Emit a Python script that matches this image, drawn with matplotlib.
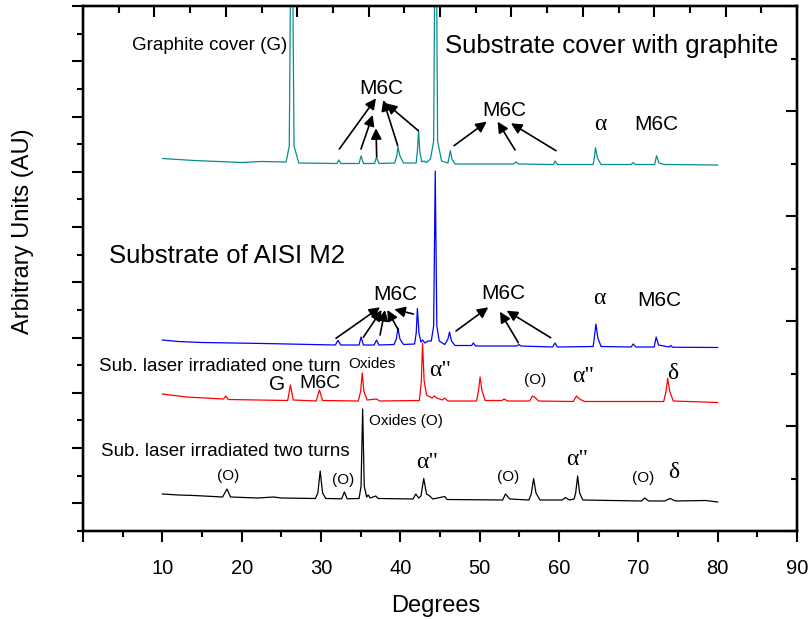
import numpy as np
import matplotlib
matplotlib.use("Agg")
import matplotlib.pyplot as plt
from matplotlib.ticker import MultipleLocator, FixedLocator, NullFormatter

plt.rcParams['font.family'] = ['Liberation Sans', 'DejaVu Sans']

# ---- traces (2theta in degrees, intensity in arbitrary units, already offset) ----
two_turns_x = [10.0, 12.0, 14.0, 17.6, 18.15, 18.6, 22.0, 24.0, 25.0, 29.3, 29.6, 29.9, 30.2, 30.6,
               32.6, 32.95, 33.3, 34.8, 35.05, 35.25, 35.45, 35.75, 35.95, 36.2, 36.9, 37.2,
               41.6, 41.95, 42.3, 42.6, 42.95, 43.3, 43.7, 44.1, 45.6, 45.9, 52.9, 53.25, 53.8,
               56.2, 56.5, 56.8, 57.1, 57.6, 60.4, 60.8, 61.3, 61.9, 62.1, 62.35, 62.6, 63.0,
               70.4, 70.8, 71.3, 73.3, 74.0, 74.7, 78.5, 80.0]
two_turns_y = [37, 36, 35.5, 34, 42, 34, 33, 34, 33, 32.5, 38, 60, 38, 32.5,
               32.2, 39, 32.2, 32.5, 45, 122, 45, 34, 36, 33, 35, 32.5,
               32, 37, 33, 35, 52.5, 37, 35, 32, 34.5, 31.5, 31, 37, 32,
               31, 37, 52.5, 38, 31, 31, 33.5, 31, 32, 38, 55, 38, 31,
               30, 33, 30, 30, 32.5, 30, 30.5, 29]

one_turn_x = [10.0, 13.0, 17.7, 18.0, 18.3, 25.8, 26.15, 26.5, 29.4, 29.8, 30.2, 34.7, 35.0, 35.2,
              35.4, 35.8, 37.0, 37.4, 42.4, 42.65, 42.8, 43.0, 43.3, 44.0, 44.3, 44.6, 45.3,
              45.6, 46.0, 49.6, 49.85, 50.05, 50.3, 50.7, 52.8, 53.1, 53.5, 56.3, 56.65, 57.0,
              57.4, 61.8, 62.2, 62.6, 63.2, 73.2, 73.5, 73.7, 73.95, 74.4, 80.0]
one_turn_y = [137, 134, 132, 135, 131.5, 130.5, 146, 131, 130, 141, 130.5, 130, 140, 158,
              140, 131, 132, 130, 130.5, 150, 188, 150, 136, 133, 135, 133, 131,
              133, 130, 130, 140, 154, 140, 130.5, 130.5, 132, 130, 130, 135, 133.5,
              130, 129.5, 135, 132, 129.5, 129.5, 140, 152.7, 140, 130, 128.5]

m2_x = [10.0, 12.0, 15.0, 22.8, 31.8, 32.15, 32.5, 34.8, 35.05, 35.35, 36.7, 37.0, 37.3, 39.2,
        39.5, 39.7, 39.95, 40.4, 41.8, 42.0, 42.15, 42.35, 42.6, 42.8, 43.1, 43.5, 43.9,
        44.2, 44.4, 44.6, 44.9, 45.6, 46.0, 46.2, 46.45, 46.9, 49.0, 49.2, 49.5, 54.7,
        54.95, 55.2, 59.2, 59.5, 59.8, 64.3, 64.45, 64.65, 64.9, 65.3, 69.1, 69.35, 69.7,
        72.0, 72.25, 72.55, 73.9, 74.1, 74.3, 80.0]
m2_y = [191, 189.5, 188.5, 187.5, 186, 190.5, 186, 186, 194, 186, 186, 191, 186, 186.5,
        192, 203, 192, 186.5, 187, 198, 222.5, 198, 189, 191, 188, 190, 190,
        205, 360, 205, 190, 186.5, 192, 199, 190, 185.5, 185.5, 188, 185, 185,
        186.5, 185, 184, 188, 184, 184.5, 193, 207, 193, 184.5, 184, 187, 184,
        184, 194, 186, 184, 185.5, 183.8, 183.5]

graphite_x = [10.0, 14.0, 20.0, 22.5, 25.6, 26.0, 26.3, 26.6, 27.2, 32.0, 32.25, 32.5,
              34.8, 35.05, 35.35, 36.75, 37.0, 37.3, 39.3, 39.55, 39.7, 39.95, 40.4, 42.0,
              42.15, 42.3, 42.45, 42.7, 42.95, 43.3, 43.8, 44.2, 44.45, 44.7, 45.2,
              46.0, 46.15, 46.3, 46.5, 46.9, 54.3, 54.55, 54.9, 59.3, 59.5, 59.8, 64.3, 64.45,
              64.6, 64.85, 65.3, 69.1, 69.35, 69.6, 72.05, 72.3, 72.6, 73.3, 80.0]
graphite_y = [372.5, 370.5, 368.5, 369.5, 369, 385, 700, 385, 368, 367.5, 371, 367.5,
              367.5, 375, 367.5, 367.5, 374, 367.5, 368, 375, 384, 375, 368, 368,
              380, 401, 380, 369, 370, 368.5, 372, 390, 700, 390, 370,
              368, 374, 380.3, 372, 367, 367, 369, 367, 366.5, 370, 366.5, 366.5, 373,
              383.3, 373, 366.5, 366.5, 368.5, 366.5, 366.5, 375.3, 368, 366.5, 366]

x_ticks = [10, 20, 30, 40, 50, 60, 70, 80, 90]

fig = plt.figure(figsize=(8.1, 6.2), dpi=100)
ax = fig.add_axes([83 / 810, 1 - 531 / 620, 714 / 810, 525 / 620])

ax.plot(graphite_x, graphite_y, color='#0a8c8c', lw=0.9)
ax.plot(m2_x, m2_y, color='#0000ff', lw=0.9)
ax.plot(one_turn_x, one_turn_y, color='#ff0000', lw=0.9)
ax.plot(two_turns_x, two_turns_y, color='black', lw=0.9)

ax.set_xlim(0, 90)
ax.set_ylim(0, 525)

# bottom axis
ax.xaxis.set_major_locator(FixedLocator([0] + x_ticks))
ax.set_xticklabels([''] + [str(t) for t in x_ticks])
ax.xaxis.set_minor_locator(MultipleLocator(5))
# left axis (no labels)
step = 525 / 19
ax.yaxis.set_major_locator(FixedLocator([525 - 2 * step * k for k in range(10)]))
ax.yaxis.set_minor_locator(FixedLocator([525 - step * (2 * k + 1) for k in range(10)]))
ax.yaxis.set_major_formatter(NullFormatter())
ax.tick_params(axis='both', which='major', direction='out', length=8, width=1.5, labelsize=14.5, pad=12)
ax.tick_params(axis='both', which='minor', direction='out', length=4, width=1.5)
for s in ax.spines.values():
    s.set_linewidth(1.6)

# right axis ticks
axr = ax.twinx()
axr.set_ylim(0, 525)
axr.yaxis.set_major_locator(MultipleLocator(105))
axr.yaxis.set_minor_locator(MultipleLocator(52.5))
axr.yaxis.set_major_formatter(NullFormatter())
axr.tick_params(which='major', direction='in', length=8, width=1.5)
axr.tick_params(which='minor', direction='in', length=4, width=1.5)

# top axis ticks
axt = ax.twiny()
axt.set_xlim(0, 90)
axt.xaxis.set_major_locator(MultipleLocator(9))
axt.xaxis.set_minor_locator(MultipleLocator(4.5))
axt.xaxis.set_major_formatter(NullFormatter())
axt.tick_params(which='major', direction='in', length=8, width=1.5)
axt.tick_params(which='minor', direction='in', length=5, width=1.5)
for a in (axr, axt):
    for s in a.spines.values():
        s.set_linewidth(1.6)

fig.text(435.7 / 810, 1 - 606 / 620, 'Degrees', ha='center', va='center', fontsize=17)
fig.text(23 / 810, 1 - 231 / 620, 'Arbitrary Units (AU)', ha='center', va='center',
         rotation=90, fontsize=17)

greek = ['Liberation Serif', 'DejaVu Serif']

def label(x, y, s, size, **kw):
    ax.text(x, y, s, fontsize=size, ha=kw.pop('ha', 'center'), va='center', **kw)

# titles of the traces
label(15.95, 485, 'Graphite cover (G)', 13.5)
label(66.62, 485, 'Substrate cover with graphite', 18.5)
label(18.1, 275, 'Substrate of AISI M2', 18.5)
label(2.05, 164.3, 'Sub. laser irradiated one turn', 13.5, ha='left')
label(2.3, 80, 'Sub. laser irradiated two turns', 13.5, ha='left')

# graphite-covered phases
label(37.65, 442, 'M6C', 15)
label(53.16, 420, 'M6C', 15)
label(65.17, 407, 'α', 17, family=greek)
label(72.29, 407, 'M6C', 15)
# AISI M2 phases
label(39.42, 236.7, 'M6C', 15)
label(52.98, 237.7, 'M6C', 15)
label(65.04, 232.7, 'α', 17, family=greek)
label(72.61, 231, 'M6C', 15)
# one turn
label(36.43, 166.7, 'Oxides', 11)
label(24.42, 146, 'G', 15)
label(29.84, 147.7, 'M6C', 14)
label(45.04, 160.3, 'α"', 17, family=greek)
label(57.04, 151, '(O)', 11)
label(63.0, 155, 'α"', 17, family=greek)
label(74.28, 157.7, 'δ', 17, family=greek)
# two turns
label(40.69, 110.3, 'Oxides (O)', 11)
label(18.24, 55.3, '(O)', 11)
label(32.81, 51, '(O)', 11)
label(43.32, 68.7, 'α"', 17, family=greek)
label(53.61, 53.7, '(O)', 11)
label(62.23, 71.7, 'α"', 17, family=greek)
label(70.63, 52.7, '(O)', 11)
label(74.5, 58.3, 'δ', 17, family=greek)

# arrows: (tail on peak) -> (head near label)
arrow_tails = [(32.31, 382), (35.04, 382), (37.02, 374.3), (39.67, 385.3), (42.27, 400.3),
               (46.77, 385.3), (54.46, 381), (59.62, 380.3),
               (31.89, 192.7), (35.33, 193.7), (37.44, 196), (39.75, 201), (41.64, 217),
               (47.02, 200), (54.87, 188.3), (58.95, 193.3)]
arrow_heads = [(36.93, 432.7), (36.52, 416), (36.93, 402.7), (37.85, 431), (38.19, 427.7),
               (50.89, 409.3), (52.27, 409.3), (53.95, 407.7),
               (37.44, 223.7), (37.65, 221), (38.07, 221), (38.36, 221), (39.24, 221.7),
               (51.09, 223.7), (52.56, 219.3), (53.41, 220.3)]
for tail, head in zip(arrow_tails, arrow_heads):
    ax.annotate('', xy=head, xytext=tail,
                arrowprops=dict(arrowstyle='-|>', color='black', lw=1.2,
                                mutation_scale=16, shrinkA=0, shrinkB=0))

fig.savefig('out.png', dpi=100)
